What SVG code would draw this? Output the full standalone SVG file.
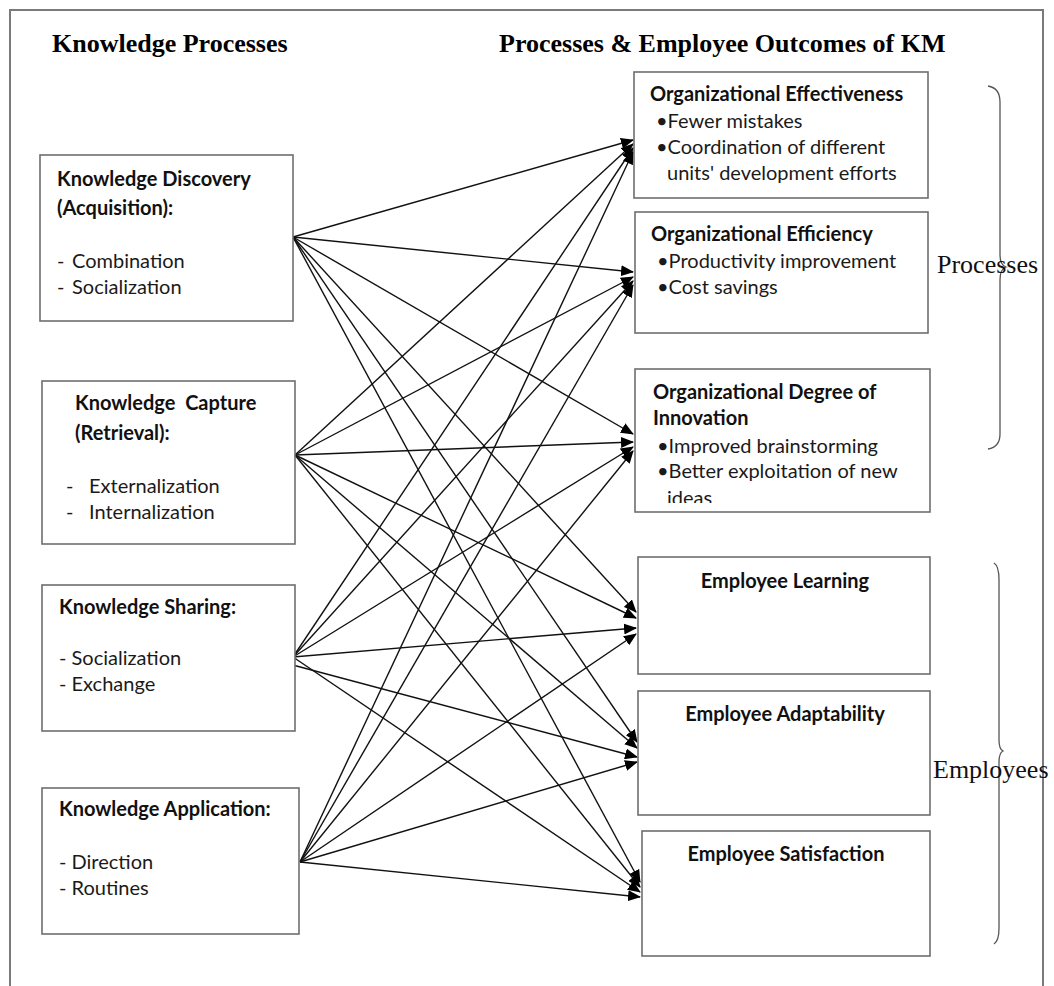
<svg xmlns="http://www.w3.org/2000/svg" width="1054" height="986" viewBox="0 0 1054 986">
<style>
.box{fill:#fff;stroke:#6e6e6e;stroke-width:1.6}
.hdr{font-family:"Liberation Serif",serif;font-weight:bold;font-size:26px;fill:#000}
.lbl{font-family:"Liberation Serif",serif;font-size:26px;fill:#111}
.t{font-family:Lato,"Open Sans",sans-serif;font-weight:bold;font-size:20px;fill:#111}
.b{font-family:Lato,"Open Sans",sans-serif;font-size:20px;fill:#1a1a1a}
.c{text-anchor:middle}
.conn line{stroke:#111;stroke-width:1.4;marker-end:url(#ah)}
.brace{fill:none;stroke:#555;stroke-width:1.3}
</style>
<defs>
<marker id="ah" markerUnits="userSpaceOnUse" markerWidth="13" markerHeight="11" refX="12" refY="5.5" orient="auto">
<path d="M0,0 L13,5.5 L0,11 z" fill="#000"/>
</marker>
<clipPath id="clipR3"><rect x="634" y="369" width="296" height="134"/></clipPath>
</defs>
<rect width="1054" height="986" fill="#fff"/>
<path d="M10,986 L10,10 L1043,10 L1043,986" fill="none" stroke="#7a7a7a" stroke-width="2"/>
<text class="hdr" x="52" y="52">Knowledge Processes</text>
<text class="hdr" x="499" y="52">Processes &amp; Employee Outcomes of KM</text>

<g id="connectors" class="conn">
<line x1="293" y1="237" x2="633" y2="140"/>
<line x1="293" y1="237" x2="633" y2="272"/>
<line x1="293" y1="237" x2="633" y2="434"/>
<line x1="293" y1="237" x2="636" y2="612"/>
<line x1="293" y1="237" x2="637" y2="742"/>
<line x1="293" y1="237" x2="640" y2="882"/>
<line x1="295" y1="455" x2="633" y2="144"/>
<line x1="295" y1="455" x2="633" y2="277"/>
<line x1="295" y1="455" x2="633" y2="442"/>
<line x1="295" y1="455" x2="636" y2="618"/>
<line x1="295" y1="455" x2="637" y2="748"/>
<line x1="295" y1="455" x2="640" y2="887"/>
<line x1="293" y1="657" x2="633" y2="148"/>
<line x1="293" y1="657" x2="633" y2="281"/>
<line x1="293" y1="657" x2="633" y2="447"/>
<line x1="293" y1="657" x2="636" y2="628"/>
<line x1="289" y1="664" x2="637" y2="757"/>
<line x1="293" y1="657" x2="640" y2="892"/>
<line x1="300" y1="862" x2="633" y2="152"/>
<line x1="300" y1="862" x2="633" y2="285"/>
<line x1="300" y1="862" x2="633" y2="451"/>
<line x1="300" y1="862" x2="636" y2="634"/>
<line x1="300" y1="862" x2="637" y2="762"/>
<line x1="300" y1="862" x2="640" y2="897"/>
</g>

<g id="discovery">
<rect class="box" x="40" y="155" width="253" height="166"/>
<text class="t" x="57" y="186">Knowledge Discovery</text>
<text class="t" x="57" y="215">(Acquisition):</text>
<text class="b" x="57" y="268">-</text><text class="b" x="72" y="268">Combination</text>
<text class="b" x="57" y="294">-</text><text class="b" x="72" y="294">Socialization</text>
</g>
<g id="capture">
<rect class="box" x="42" y="381" width="253" height="163"/>
<text class="t" x="75" y="410">Knowledge&#160; Capture</text>
<text class="t" x="75" y="440">(Retrieval):</text>
<text class="b" x="66" y="493">-</text><text class="b" x="89" y="493">Externalization</text>
<text class="b" x="66" y="519">-</text><text class="b" x="89" y="519">Internalization</text>
</g>
<g id="sharing">
<rect class="box" x="42" y="585" width="253" height="146"/>
<text class="t" x="59" y="614">Knowledge Sharing:</text>
<text class="b" x="59" y="665">- Socialization</text>
<text class="b" x="59" y="691">- Exchange</text>
</g>
<g id="application">
<rect class="box" x="42" y="788" width="257" height="146"/>
<text class="t" x="59" y="816">Knowledge Application:</text>
<text class="b" x="59" y="869">- Direction</text>
<text class="b" x="59" y="895">- Routines</text>
</g>

<g id="effectiveness">
<rect class="box" x="634" y="72" width="294" height="126"/>
<text class="t" x="650" y="101">Organizational Effectiveness</text>
<text class="b" x="656" y="128">•Fewer mistakes</text>
<text class="b" x="656" y="154">•Coordination of different</text>
<text class="b" x="667" y="180">units' development efforts</text>
</g>
<g id="efficiency">
<rect class="box" x="635" y="212" width="293" height="121"/>
<text class="t" x="651" y="241">Organizational Efficiency</text>
<text class="b" x="657" y="268">•Productivity improvement</text>
<text class="b" x="657" y="294">•Cost savings</text>
</g>
<g id="innovation">
<rect class="box" x="635" y="369" width="295" height="143"/>
<text class="t" x="653" y="399">Organizational Degree of</text>
<text class="t" x="653" y="425">Innovation</text>
<text class="b" x="657" y="453">•Improved brainstorming</text>
<text class="b" x="657" y="478">•Better exploitation of new</text>
<text class="b" x="667" y="505" clip-path="url(#clipR3)">ideas</text>
</g>
<g id="learning">
<rect class="box" x="638" y="557" width="292" height="117"/>
<text class="t c" x="785" y="588">Employee Learning</text>
</g>
<g id="adaptability">
<rect class="box" x="638" y="691" width="292" height="124"/>
<text class="t c" x="785" y="721">Employee Adaptability</text>
</g>
<g id="satisfaction">
<rect class="box" x="642" y="831" width="288" height="125"/>
<text class="t c" x="786" y="861">Employee Satisfaction</text>
</g>

<g id="processes-brace">
<path class="brace" d="M988,86 Q1000,88 1000,102 L1000,255 Q1000,265 1006,267 Q1000,269 1000,280 L1000,434 Q1000,447 988,449"/>
<text class="lbl" x="937" y="273">Processes</text>
</g>
<g id="employees-brace">
<path class="brace" d="M994,563 Q999,566 999,580 L999,740 Q999,749 1003,751 Q999,753 999,762 L999,928 Q999,941 994,944"/>
<text class="lbl" x="933" y="778">Employees</text>
</g>
</svg>
